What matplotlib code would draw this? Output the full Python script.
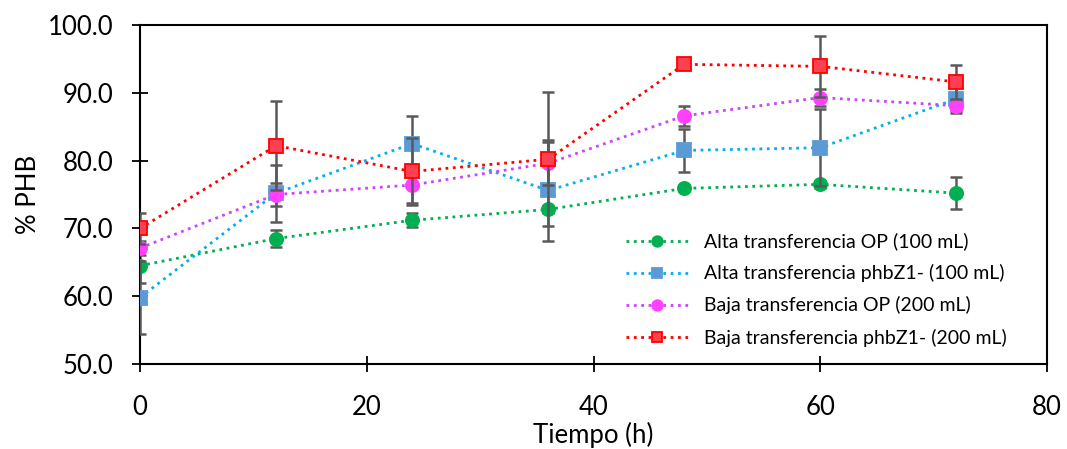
import matplotlib.pyplot as plt

plt.rcParams['font.family'] = ['Lato', 'DejaVu Sans']

tiempo = [0, 12, 24, 36, 48, 60, 72]

alta_op = [64.5, 68.5, 71.2, 72.8, 75.9, 76.5, 75.2]
alta_op_err = [2.5, 1.3, 1.0, 0.5, 0.4, 0.5, 2.4]

alta_phb = [59.8, 75.2, 82.5, 75.6, 81.5, 81.9, 89.1]
alta_phb_err = [5.4, 4.2, 4.1, 7.4, 3.2, 5.7, 2.1]

baja_op = [67.1, 75.0, 76.4, 79.6, 86.6, 89.3, 88.1]
baja_op_err = [1.0, 1.7, 2.7, 3.2, 1.5, 1.2, 0.8]

baja_phb = [70.0, 82.2, 78.4, 80.2, 94.2, 93.9, 91.6]
baja_phb_err = [2.3, 6.6, 4.9, 9.9, 0.3, 4.5, 2.5]

series = [
    (alta_op, alta_op_err, 'Alta transferencia OP (100 mL)', '#00B050', 'o', '#00B050', '#00B050'),
    (alta_phb, alta_phb_err, 'Alta transferencia phbZ1- (100 mL)', '#00B0F0', 's', '#5B9BD5', '#5B9BD5'),
    (baja_op, baja_op_err, 'Baja transferencia OP (200 mL)', '#CC44FF', 'o', '#FF40FF', '#FF40FF'),
    (baja_phb, baja_phb_err, 'Baja transferencia phbZ1- (200 mL)', '#FF0000', 's', '#FF4050', '#FF0000'),
]

fig = plt.figure(figsize=(10.67, 4.49), dpi=100)
ax = fig.add_axes([0.1312, 0.1893, 0.8501, 0.755])

z = 2
for y, err, label, lc, mk, fc, ec in series:
    ax.errorbar(tiempo, y, yerr=err, fmt='none', ecolor='#595959',
                elinewidth=1.8, capsize=4.5, capthick=1.8, zorder=z)
    ax.plot(tiempo, y, linestyle=':', linewidth=2, color=lc, marker=mk,
            markersize=9.5, markerfacecolor=fc,
            markeredgecolor=ec, markeredgewidth=1.3, label=label, zorder=z + 1)
    z += 2

ax.set_xlim(0, 80)
ax.set_ylim(50, 100)
ax.set_xticks([0, 20, 40, 60, 80])
ax.set_yticks([50, 60, 70, 80, 90, 100])
ax.set_yticklabels(['%.1f' % v for v in [50, 60, 70, 80, 90, 100]])
ax.tick_params(axis='both', labelsize=18.5, direction='inout', length=12, width=1.3)
ax.tick_params(axis='y', pad=13)
ax.tick_params(axis='x', pad=16)
ax.set_xlabel('Tiempo (h)', fontsize=18.5, labelpad=2)
ax.set_ylabel('% PHB', fontsize=18.5, labelpad=5)
for s in ax.spines.values():
    s.set_linewidth(1.5)

ax.legend(loc='lower right', bbox_to_anchor=(0.975, 0.0), frameon=False,
          fontsize=14, handlelength=3.2, labelspacing=0.72, markerscale=0.8,
          handletextpad=0.8)

plt.savefig('out.png', dpi=100)
